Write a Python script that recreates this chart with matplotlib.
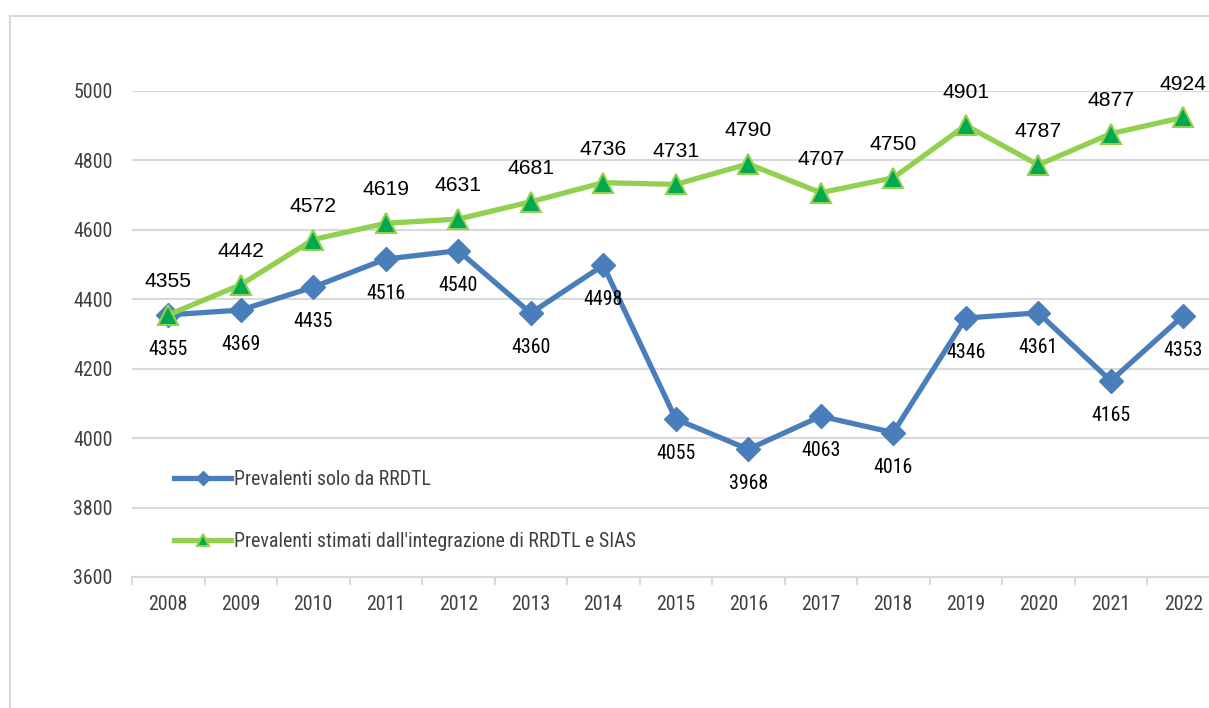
import matplotlib.pyplot as plt
from matplotlib.lines import Line2D

years = ["2008", "2009", "2010", "2011", "2012", "2013", "2014", "2015",
         "2016", "2017", "2018", "2019", "2020", "2021", "2022"]
solo_rrdtl = [4355, 4369, 4435, 4516, 4540, 4360, 4498, 4055,
              3968, 4063, 4016, 4346, 4361, 4165, 4353]
stimati = [4355, 4442, 4572, 4619, 4631, 4681, 4736, 4731,
           4790, 4707, 4750, 4901, 4787, 4877, 4924]

narrow = ["Roboto Condensed", "Liberation Sans", "DejaVu Sans"]
regular = ["Liberation Sans", "DejaVu Sans"]
grey = "#d9d9d9"
text_col = "#404040"
blue = "#4a7ebb"
light_green = "#92d050"
dark_green = "#00a84f"

fig = plt.figure(figsize=(12.09, 7.08), dpi=100)
ax = fig.add_axes([132 / 1209, 1 - 577 / 708, (1219.5 - 132) / 1209, (577 - 91) / 708])

x = list(range(len(years)))
ax.plot(x, solo_rrdtl, color=blue, lw=3.8, marker="D", ms=12, mfc=blue, mec=blue,
        label="Prevalenti solo da RRDTL", zorder=3)
ax.plot(x, stimati, color=light_green, lw=3.8, marker="^", ms=14, mfc=dark_green,
        mec=light_green, mew=1.5, label="Prevalenti stimati dall'integrazione di RRDTL e SIAS",
        zorder=4)

for i, v in enumerate(solo_rrdtl):
    ax.annotate(str(v), (i, v), textcoords="offset points", xytext=(0, -25),
                ha="center", va="center", fontsize=14.3, family=narrow, color="black")
for i, v in enumerate(stimati):
    ax.annotate(str(v), (i, v), textcoords="offset points", xytext=(0, 24),
                ha="center", va="center", fontsize=15.2, family=regular, color="black")

ax.set_xlim(-0.5, len(years) - 0.5)
ax.set_ylim(3600, 5000)
ax.set_yticks(range(3600, 5001, 200))
ax.set_xticks(x)
ax.set_xticklabels(years)
ax.set_xticks([i + 0.5 for i in range(-1, len(years))], minor=True)

for lab in ax.get_xticklabels() + ax.get_yticklabels():
    lab.set_family(narrow)
    lab.set_fontsize(14.3)
    lab.set_color(text_col)

ax.tick_params(axis="x", which="major", length=0, pad=13)
ax.tick_params(axis="x", which="minor", length=6, width=1.5, color=grey)
ax.tick_params(axis="y", length=0, pad=14)

ax.grid(axis="y", color=grey, lw=1.5)
ax.set_axisbelow(True)
for s in ["top", "right", "left"]:
    ax.spines[s].set_visible(False)
ax.spines["bottom"].set_color(grey)
ax.spines["bottom"].set_linewidth(1.5)

ax.legend(loc="upper left", bbox_to_anchor=(156 / 1209, 1 - 452 / 708),
          bbox_transform=fig.transFigure, frameon=False, markerscale=0.6,
          handlelength=2.9, handletextpad=0.15, labelspacing=2.15,
          prop={"family": narrow, "size": 14.3}, labelcolor=text_col)

# outer chart frame (only left and top edges visible)
fig.add_artist(Line2D([10 / 1209, 10 / 1209], [0, 1 - 16 / 708], color=grey, lw=1.5,
                      transform=fig.transFigure))
fig.add_artist(Line2D([10 / 1209, 1], [1 - 16 / 708, 1 - 16 / 708], color=grey, lw=1.5,
                      transform=fig.transFigure))

fig.savefig("out.png", dpi=100)
